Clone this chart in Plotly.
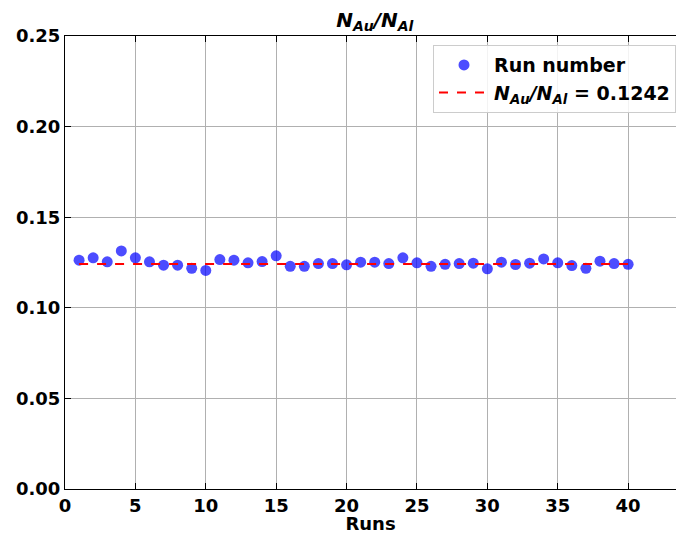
import plotly.graph_objects as go

runs = list(range(1, 41))
ratios = [0.1263, 0.1276, 0.1254, 0.1314, 0.1276, 0.1254, 0.1235, 0.1235, 0.1218, 0.1206,
          0.1266, 0.1263, 0.1248, 0.1255, 0.1287, 0.1229, 0.1229, 0.1244, 0.1244, 0.1237,
          0.1252, 0.1252, 0.1244, 0.1276, 0.1248, 0.1229, 0.1240, 0.1244, 0.1246, 0.1215,
          0.1252, 0.1239, 0.1246, 0.1270, 0.1248, 0.1233, 0.1218, 0.1257, 0.1244, 0.1240]
mean_ratio = 0.1242
x_ticks = [0, 5, 10, 15, 20, 25, 30, 35, 40]
y_ticks = [0.0, 0.05, 0.10, 0.15, 0.20, 0.25]

FONT = "DejaVu Sans"

fig = go.Figure()
fig.add_trace(go.Scatter(
    x=runs, y=ratios, mode="markers", name="Run number",
    marker=dict(color="rgba(0,0,255,0.7)", size=11, line=dict(width=0)),
))
fig.add_trace(go.Scatter(
    x=[runs[0], runs[-1]], y=[mean_ratio, mean_ratio], mode="lines",
    name="<i>N<sub>Au</sub>/N<sub>Al</sub></i> = %.4f" % mean_ratio,
    line=dict(color="red", width=2, dash="dash"),
))

axis_common = dict(
    showline=True, linecolor="black", linewidth=1,
    ticks="inside", ticklen=6, tickwidth=1, tickcolor="black",
    showgrid=True, gridcolor="#b0b0b0", gridwidth=1,
    zeroline=False,
    tickfont=dict(family=FONT, size=18, color="black", weight="bold"),
)

fig.update_layout(
    width=676, height=534,
    margin=dict(l=65, r=0, t=36, b=45),
    paper_bgcolor="white", plot_bgcolor="white",
    font=dict(family=FONT, color="black"),
    title=dict(
        text="<i>N<sub>Au</sub>/N<sub>Al</sub></i>",
        font=dict(family=FONT, size=20, color="black", weight="bold"),
        x=0.507, xref="paper", xanchor="center", y=0.962, yanchor="middle",
    ),
    xaxis=dict(
        range=[0, 43.4], tickvals=x_ticks, mirror="ticks",
        title=dict(text="Runs", font=dict(family=FONT, size=18, color="black", weight="bold"), standoff=6),
        **axis_common,
    ),
    yaxis=dict(
        range=[0, 0.25], tickvals=y_ticks, tickformat=".2f", mirror=False,
        **axis_common,
    ),
    legend=dict(
        x=1.0, y=0.98, xanchor="right", yanchor="top",
        bgcolor="rgba(255,255,255,0.85)", bordercolor="#cccccc", borderwidth=1,
        font=dict(family=FONT, size=19, color="black", weight="bold"),
        itemwidth=50,
    ),
    showlegend=True,
)

fig.write_html("out.html")
